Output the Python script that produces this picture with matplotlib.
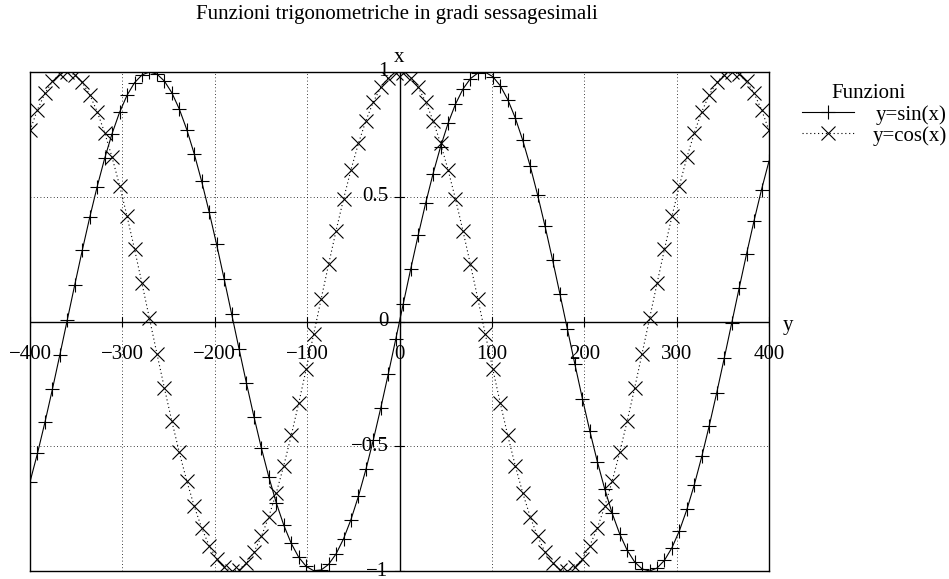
import matplotlib.pyplot as plt
import numpy as np
from matplotlib.lines import Line2D

# angoli in gradi (100 campioni sull'intervallo)
x_min, x_max = -400, 400
n_samples = 100
x_ticks = [-400, -300, -200, -100, 0, 100, 200, 300, 400]
y_ticks = [-1, -0.5, 0, 0.5, 1]
y_tick_labels = ["\u22121", "\u22120.5", "0", "0.5", "1"]
nomi = ["y=sin(x)", "y=cos(x)"]

gradi = np.linspace(x_min, x_max, n_samples)
seno = np.sin(np.radians(gradi))
coseno = np.cos(np.radians(gradi))

plt.rcParams['font.family'] = ['Liberation Serif', 'DejaVu Serif']
plt.rcParams['font.size'] = 15

fig = plt.figure(figsize=(9.49, 5.79), dpi=100)
W, H = 949, 579
ax = fig.add_axes([30 / W, 8 / H, 739 / W, 499 / H])

stile_sin = dict(color="black", lw=0.8, marker="+", ms=9.5, mew=0.8)
stile_cos = dict(color="black", lw=0.8, ls=(0, (1, 2.5)), marker="x",
                 ms=10, mew=0.8)
ax.plot(gradi, seno, **stile_sin)
ax.plot(gradi, coseno, **stile_cos)

ax.set_xlim(x_min, x_max)
ax.set_ylim(-1, 1)

# griglia puntinata sui tick
for t in x_ticks[1:-1]:
    if t != 0:
        ax.axvline(t, color="black", lw=0.6, ls=(0, (1, 3)), zorder=0)
for t in [-0.5, 0.5]:
    ax.axhline(t, color="black", lw=0.6, ls=(0, (1, 3)), zorder=0)

# assi centrali
ax.axhline(0, color="black", lw=1.0)
ax.axvline(0, color="black", lw=1.0)
for s in ax.spines.values():
    s.set_linewidth(1.0)

ax.set_xticks([])
ax.set_yticks([])

# etichette sugli assi centrali
for t in x_ticks:
    lab = str(t).replace("-", "\u2212")
    ax.text(t, -0.132, lab, ha="center", va="center")
    ax.plot([t, t], [-0.02, 0.02], color="black", lw=0.8)
for t, lab in zip(y_ticks, y_tick_labels):
    ax.text(-12, t, lab, ha="right", va="center")
    ax.plot([-5, 5], [t, t], color="black", lw=0.8)

ax.text(0, 1.06, "x", ha="center", va="center", clip_on=False)
ax.text(415, -0.015, "y", ha="left", va="center", clip_on=False)

fig.text(397 / W, 1 - 14 / H, "Funzioni trigonometriche in gradi sessagesimali",
         ha="center", va="center", fontsize=15)

# legenda
fig.text(869 / W, 1 - 94 / H, "Funzioni", ha="center", va="center")
for i, (nome, stile) in enumerate(zip(nomi, [stile_sin, stile_cos])):
    y_testo = 1 - (115 + 21 * i) / H
    y_linea = 1 - (112 + 21 * i) / H
    linea = {k: v for k, v in stile.items() if k not in ("marker", "ms", "mew")}
    fig.add_artist(Line2D([802 / W, 854 / W], [y_linea, y_linea], **linea))
    fig.add_artist(Line2D([828 / W], [y_linea], color="black", ls="none",
                          marker=stile["marker"], ms=stile["ms"],
                          mew=stile["mew"]))
    fig.text(947 / W, y_testo, nome, ha="right", va="center")

fig.savefig("out.png", dpi=100)
